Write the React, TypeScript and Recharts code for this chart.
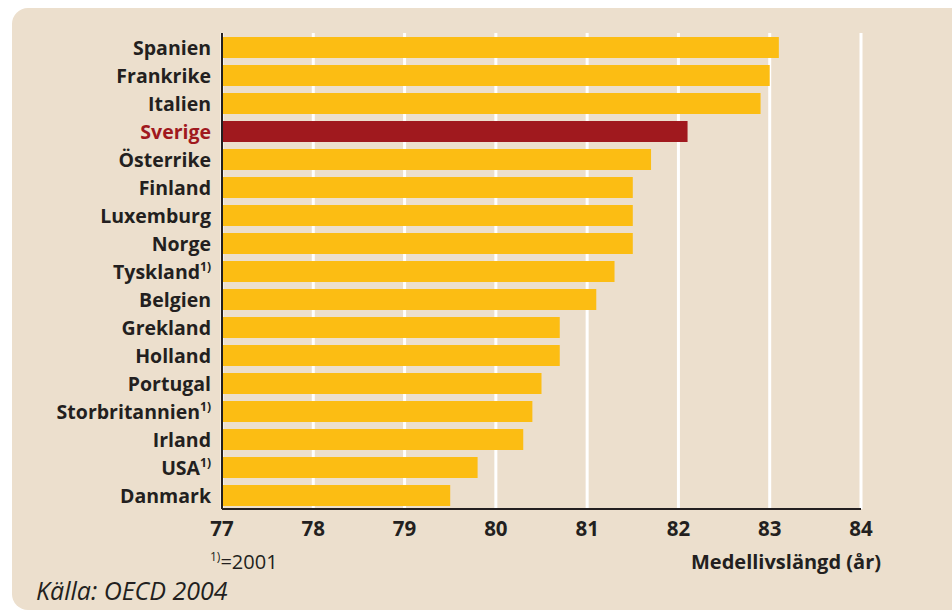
import React from 'react';
import { Bar, BarChart, CartesianGrid, Cell, XAxis, YAxis } from 'recharts';

const countries = [
  'Spanien', 'Frankrike', 'Italien', 'Sverige', 'Österrike', 'Finland', 'Luxemburg', 'Norge',
  'Tyskland', 'Belgien', 'Grekland', 'Holland', 'Portugal', 'Storbritannien', 'Irland', 'USA', 'Danmark',
];
const lifeExpectancy = [
  83.1, 83.0, 82.9, 82.1, 81.7, 81.5, 81.5, 81.5, 81.3, 81.1, 80.7, 80.7, 80.5, 80.4, 80.3, 79.8, 79.5,
];
const footnoted = ['Tyskland', 'Storbritannien', 'USA'];
const highlight = 'Sverige';
const xTicks = [77, 78, 79, 80, 81, 82, 83, 84];

const data = countries.map((name, i) => ({ name, value: lifeExpectancy[i] }));

const FONT = '"Open Sans", "Noto Sans", sans-serif';
const INK = '#231f20';
const RED = '#a0191e';
const YELLOW = '#fcbd13';

const CountryTick = (props: any) => {
  const { x, y, payload } = props;
  const name = payload.value as string;
  const note = footnoted.includes(name);
  return (
    <text
      x={x - 3}
      y={y}
      dy={8}
      textAnchor="end"
      fontFamily={FONT}
      fontWeight={700}
      fontSize={19.5}
      fill={name === highlight ? RED : INK}
    >
      <tspan>{name}</tspan>
      {note && (
        <tspan dy={-8} fontSize={12}>
          1)
        </tspan>
      )}
    </text>
  );
};

const ValueTick = (props: any) => {
  const { x, y, payload } = props;
  return (
    <text x={x} y={y} dy={19} textAnchor="middle" fontFamily={FONT} fontWeight={700} fontSize={20.5} fill={INK}>
      {payload.value}
    </text>
  );
};

export default function App() {
  return (
    <div style={{ position: 'fixed', left: 0, top: 0, width: 952, height: 614, overflow: 'hidden', background: '#fff' }}>
      <div
        style={{
          position: 'absolute',
          left: 12,
          top: 8,
          width: 960,
          height: 602,
          background: '#ecdfcd',
          borderRadius: 16,
        }}
      />
      <div style={{ position: 'absolute', left: 0, top: 0 }}>
        <BarChart
          width={952}
          height={614}
          data={data}
          layout="vertical"
          margin={{ top: 33, right: 91, bottom: 75, left: 0 }}
          barCategoryGap={0}
        >
          <CartesianGrid horizontal={false} stroke="#ffffff" strokeWidth={3} />
          <XAxis
            type="number"
            domain={[77, 84]}
            ticks={xTicks}
            interval={0}
            height={30}
            axisLine={{ stroke: INK, strokeWidth: 2 }}
            tickLine={false}
            tick={<ValueTick />}
          />
          <YAxis
            type="category"
            dataKey="name"
            width={222}
            interval={0}
            axisLine={{ stroke: INK, strokeWidth: 2 }}
            tickLine={false}
            tick={<CountryTick />}
          />
          <Bar dataKey="value" barSize={21} isAnimationActive={false}>
            {data.map((d) => (
              <Cell key={d.name} fill={d.name === highlight ? RED : YELLOW} />
            ))}
          </Bar>
        </BarChart>
      </div>
      <div
        style={{
          position: 'absolute',
          left: 210,
          top: 548,
          fontFamily: FONT,
          fontSize: 20,
          color: INK,
          whiteSpace: 'nowrap',
        }}
      >
        <sup style={{ fontSize: 12 }}>1)</sup>=2001
      </div>
      <div
        style={{
          position: 'absolute',
          right: 952 - 881,
          top: 548,
          fontFamily: FONT,
          fontWeight: 700,
          fontSize: 20,
          color: INK,
          whiteSpace: 'nowrap',
        }}
      >
        Medellivslängd (år)
      </div>
      <div
        style={{
          position: 'absolute',
          left: 36,
          top: 573,
          fontFamily: FONT,
          fontStyle: 'italic',
          fontSize: 25,
          color: INK,
          whiteSpace: 'nowrap',
        }}
      >
        Källa: OECD 2004
      </div>
    </div>
  );
}
